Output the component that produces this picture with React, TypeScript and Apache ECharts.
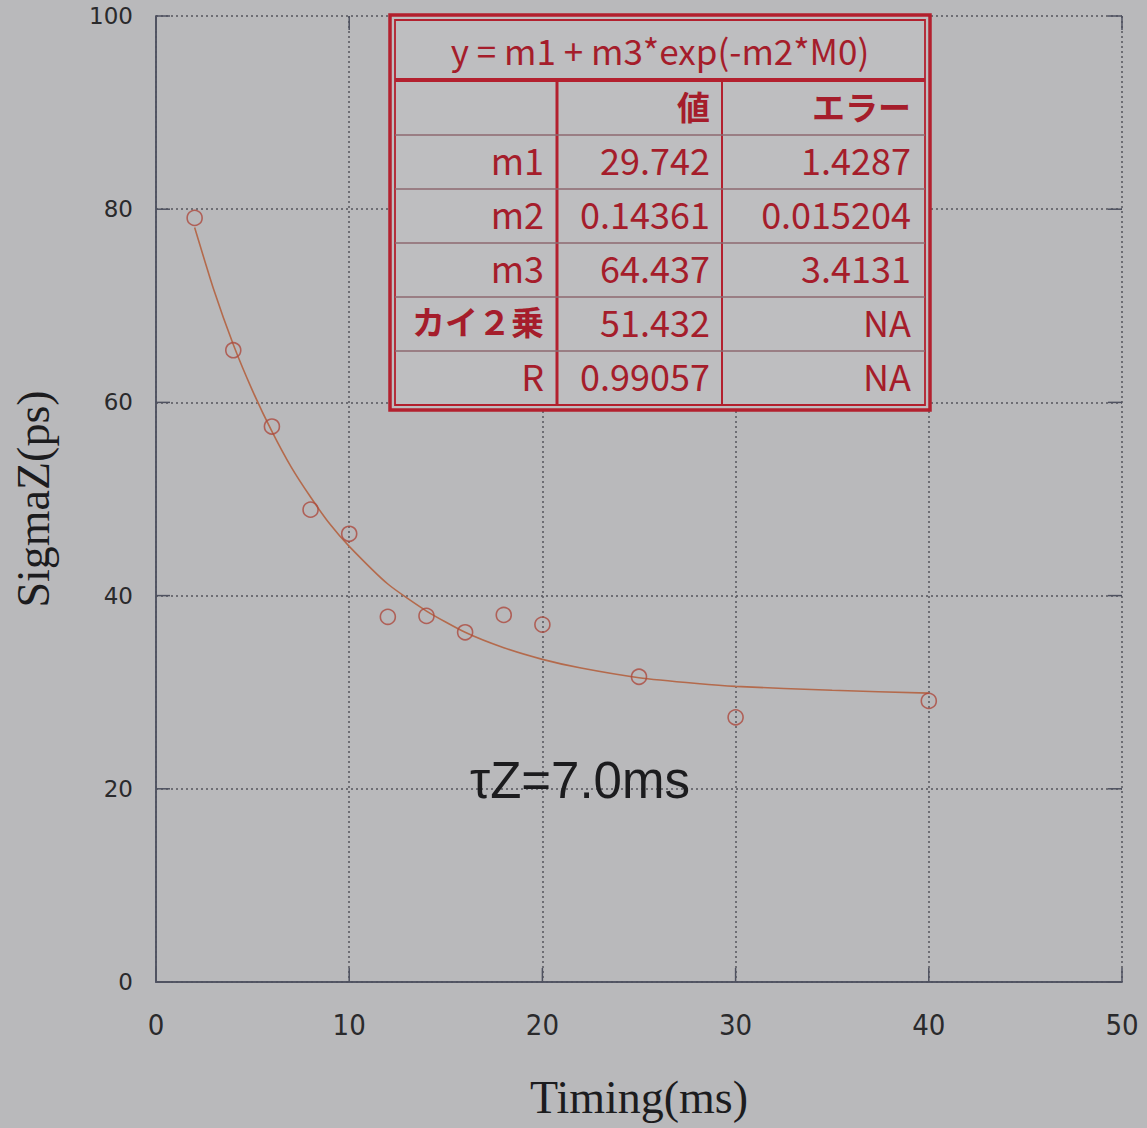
import React, { useEffect, useRef } from "react";
import * as echarts from "echarts";

// Measured data (Timing ms, SigmaZ ps)
const timing = [2, 4, 6, 8, 10, 12, 14, 16, 18, 20, 25, 30, 40];
const sigmaZ = [79.1, 65.4, 57.5, 48.9, 46.4, 37.8, 37.9, 36.2, 38.0, 37.0, 31.6, 27.4, 29.1];

// Fitted curve
const fitX = [2, 3, 4, 5, 6, 7, 8, 9, 10, 12, 14, 16, 18, 20, 22, 25, 28, 30, 35, 40];
const fitY = [78.1, 71.6, 66.0, 61.2, 57.0, 53.3, 50.2, 47.4, 45.1, 41.2, 38.4, 36.2, 34.6, 33.4, 32.5, 31.5, 30.9, 30.6, 30.2, 29.9];

const xTicks = [0, 10, 20, 30, 40, 50];
const yTicks = [0, 20, 40, 60, 80, 100];

// Fit result table
const fitFormula = "y = m1 + m3*exp(-m2*M0)";
const tableHeader = ["", "値", "エラー"];
const paramNames = ["m1", "m2", "m3", "カイ２乗", "R"];
const paramValues = ["29.742", "0.14361", "64.437", "51.432", "0.99057"];
const paramErrors = ["1.4287", "0.015204", "3.4131", "NA", "NA"];

const annotation = "τZ=7.0ms";

const BG = "#b9b9bb";
const RED = "#b3202e";
const TXT_RED = "#a51d2b";
const AXIS = "#4f5260";

export default function App() {
  const ref = useRef<HTMLDivElement>(null);
  useEffect(() => {
    document.body.style.margin = "0";
    document.body.style.background = BG;
    const chart = echarts.init(ref.current!, null, { renderer: "svg" });

    const tX = 390, tY = 15, tW = 540, tH = 395;
    const rowYs = [82, 135, 189, 243, 297, 351, 405];
    const colRights = [544, 710, 911];
    const tableRows = [tableHeader].concat(
      paramNames.map((n, i) => [n, paramValues[i], paramErrors[i]])
    );

    const graphics: any[] = [
      { type: "rect", z: 100, shape: { x: tX, y: tY, width: tW, height: tH }, style: { fill: "#bebec0", stroke: RED, lineWidth: 3.5 } },
      { type: "rect", z: 101, shape: { x: tX + 5, y: tY + 5, width: tW - 10, height: tH - 10 }, style: { fill: "none", stroke: RED, lineWidth: 1.8 } },
      { type: "line", z: 101, shape: { x1: tX + 5, y1: 80, x2: tX + tW - 5, y2: 80 }, style: { stroke: RED, lineWidth: 4 } },
      { type: "line", z: 101, shape: { x1: 557, y1: 80, x2: 557, y2: tY + tH - 5 }, style: { stroke: RED, lineWidth: 3 } },
      { type: "line", z: 101, shape: { x1: 722, y1: 80, x2: 722, y2: tY + tH - 5 }, style: { stroke: RED, lineWidth: 2 } },
      {
        type: "text", z: 102, x: 660, y: 49,
        style: { text: fitFormula, fill: TXT_RED, font: '35px "Noto Sans CJK JP", "Noto Sans", sans-serif', align: "center", verticalAlign: "middle" },
      },
    ];
    for (let r = 1; r < rowYs.length - 1; r++) {
      graphics.push({
        type: "line", z: 101,
        shape: { x1: tX + 5, y1: rowYs[r], x2: tX + tW - 5, y2: rowYs[r] },
        style: { stroke: "#8e6870", lineWidth: 1.5 },
      });
    }
    tableRows.forEach((row, r) => {
      const cy = (rowYs[r] + rowYs[r + 1]) / 2 - 3;
      row.forEach((cell, c) => {
        if (!cell) return;
        const cjk = r === 0 || (c === 0 && r === 4);
        graphics.push({
          type: "text", z: 102, x: colRights[c], y: cy,
          style: {
            text: cell, fill: TXT_RED,
            font: (cjk ? "bold 33px" : "36px") + ' "Noto Sans CJK JP", "Noto Sans", sans-serif',
            align: "right", verticalAlign: "middle",
          },
        });
      });
    });
    graphics.push({
      type: "text", z: 90, x: 470, y: 780,
      style: { text: annotation, fill: "#1c1c1e", font: '51px "Liberation Sans", Arial, sans-serif', align: "left", verticalAlign: "middle" },
    });

    const axisLineStyle = { color: AXIS, width: 1.5 };
    const noTick = { show: false };

    const option: any = {
      animation: false,
      backgroundColor: BG,
      grid: { left: 156, top: 16, right: 25, bottom: 146, show: false },
      xAxis: [
        {
          type: "value", min: 0, max: 50, interval: 10,
          name: "Timing(ms)", nameLocation: "middle", nameGap: 92,
          nameTextStyle: { fontFamily: '"Liberation Serif", "DejaVu Serif", serif', fontSize: 46, color: "#1c1c1e" },
          axisLine: { show: true, lineStyle: axisLineStyle },
          axisTick: noTick,
          axisLabel: {
            margin: 28, color: "#2a2a2c", fontSize: 29,
            fontFamily: '"Liberation Sans Narrow", "DejaVu Sans Condensed", "Liberation Sans", sans-serif',
            formatter: (v: number) => (xTicks.includes(v) ? String(v) : ""),
          },
          splitLine: { show: true, lineStyle: { type: [2, 3], color: "#55555d", width: 1.5 } },
        },
        {
          type: "value", min: 0, max: 50, interval: 10, position: "top",
          axisLine: { show: true, lineStyle: axisLineStyle },
          axisTick: noTick,
          axisLabel: { show: false }, splitLine: { show: false },
        },
      ],
      yAxis: [
        {
          type: "value", min: 0, max: 100, interval: 20,
          name: "SigmaZ(ps)", nameLocation: "middle", nameGap: 100, nameRotate: 90,
          nameTextStyle: { fontFamily: '"Liberation Serif", "DejaVu Serif", serif', fontSize: 46, color: "#1c1c1e" },
          axisLine: { show: true, lineStyle: axisLineStyle },
          axisTick: noTick,
          axisLabel: {
            margin: 23, color: "#2a2a2c", fontSize: 23,
            fontFamily: '"DejaVu Sans", Verdana, sans-serif',
            formatter: (v: number) => (yTicks.includes(v) ? String(v) : ""),
          },
          splitLine: { show: true, lineStyle: { type: [2, 3], color: "#55555d", width: 1.5 } },
        },
        {
          type: "value", min: 0, max: 100, interval: 20, position: "right",
          axisLine: { show: true, lineStyle: axisLineStyle },
          axisTick: noTick,
          axisLabel: { show: false }, splitLine: { show: false },
        },
      ],
      series: [
        {
          type: "line", name: "fit", data: fitX.map((x, i) => [x, fitY[i]]),
          showSymbol: false, smooth: 0.2,
          lineStyle: { color: "#b46a4c", width: 1.6 },
          z: 3,
        },
        {
          type: "scatter", name: "SigmaZ", data: timing.map((x, i) => [x, sigmaZ[i]]),
          symbol: "circle", symbolSize: 15,
          itemStyle: { color: "rgba(0,0,0,0)", borderColor: "#ad4a3e", borderWidth: 1.6 },
          z: 4,
        },
      ],
      graphic: graphics,
    };
    chart.setOption(option);

    // Inward tick marks on all four sides, placed through the chart's own scales
    const TL = 14;
    const ticks: any[] = [];
    const xMin = 0, xMax = 50, yMin = 0, yMax = 100;
    xTicks.forEach((v) => {
      const pb = chart.convertToPixel({ gridIndex: 0 }, [v, yMin]) as number[];
      const pt = chart.convertToPixel({ gridIndex: 0 }, [v, yMax]) as number[];
      ticks.push({ type: "line", z: 50, silent: true, shape: { x1: pb[0], y1: pb[1], x2: pb[0], y2: pb[1] - TL }, style: { stroke: AXIS, lineWidth: 1.5 } });
      ticks.push({ type: "line", z: 50, silent: true, shape: { x1: pt[0], y1: pt[1], x2: pt[0], y2: pt[1] + TL }, style: { stroke: AXIS, lineWidth: 1.5 } });
    });
    yTicks.forEach((v) => {
      const pl = chart.convertToPixel({ gridIndex: 0 }, [xMin, v]) as number[];
      const pr = chart.convertToPixel({ gridIndex: 0 }, [xMax, v]) as number[];
      ticks.push({ type: "line", z: 50, silent: true, shape: { x1: pl[0], y1: pl[1], x2: pl[0] + TL, y2: pl[1] }, style: { stroke: AXIS, lineWidth: 1.5 } });
      ticks.push({ type: "line", z: 50, silent: true, shape: { x1: pr[0], y1: pr[1], x2: pr[0] - TL, y2: pr[1] }, style: { stroke: AXIS, lineWidth: 1.5 } });
    });
    chart.setOption({ graphic: graphics.concat(ticks) });

    return () => chart.dispose();
  }, []);
  return <div ref={ref} style={{ width: 1147, height: 1128 }} />;
}
